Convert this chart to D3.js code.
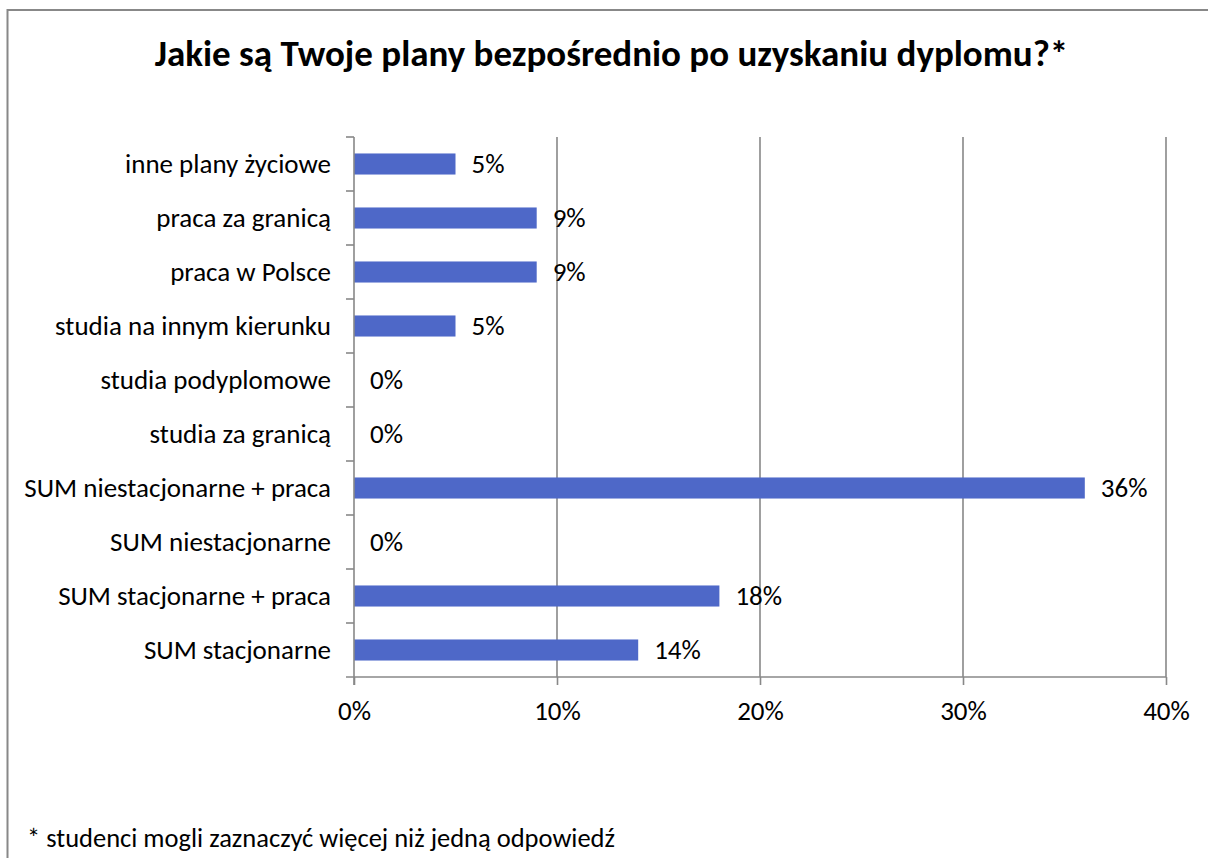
<!DOCTYPE html>
<html>
<head>
<meta charset="utf-8">
<script src="https://cdn.jsdelivr.net/npm/d3@7"></script>
<style>
  html, body { margin: 0; padding: 0; background: #fff; }
  svg { display: block; }
  text { font-family: Carlito, Lato, "Liberation Sans", sans-serif; fill: #000; }
</style>
</head>
<body>
<script>
const categories = [
  "inne plany życiowe",
  "praca za granicą",
  "praca w Polsce",
  "studia na innym kierunku",
  "studia podyplomowe",
  "studia za granicą",
  "SUM niestacjonarne + praca",
  "SUM niestacjonarne",
  "SUM stacjonarne + praca",
  "SUM stacjonarne"
];
const values = [5, 9, 9, 5, 0, 0, 36, 0, 18, 14];
const xTicks = [0, 10, 20, 30, 40];
const title = "Jakie są Twoje plany bezpośrednio po uzyskaniu dyplomu?*";
const footnote = "* studenci mogli zaznaczyć więcej niż jedną odpowiedź";

const W = 1208, H = 858;
const plot = { left: 354, right: 1166, top: 137, bottom: 677 };
const gray = "#888888";
const barColor = "#4E68C8";
const labelSize = "27px";

const svg = d3.select("body").append("svg").attr("width", W).attr("height", H);

// outer frame
svg.append("path")
  .attr("d", `M7.5,${H + 5} V10 H${W + 5}`)
  .attr("fill", "none").attr("stroke", gray).attr("stroke-width", 2);

svg.append("text")
  .attr("x", 611.5).attr("y", 66)
  .attr("text-anchor", "middle")
  .style("font-size", "37px").style("font-weight", "bold")
  .text(title);

const x = d3.scaleLinear().domain([0, 40]).range([plot.left, plot.right]);
const y = d3.scaleBand().domain(categories).range([plot.top, plot.bottom])
  .paddingInner(0.61).paddingOuter(0.305);

// gridlines
svg.append("g").selectAll("line").data(xTicks.filter(d => d > 0)).join("line")
  .attr("x1", d => x(d)).attr("x2", d => x(d))
  .attr("y1", plot.top).attr("y2", plot.bottom)
  .attr("stroke", gray).attr("stroke-width", 1.6);

// bars
svg.append("g").selectAll("rect").data(values).join("rect")
  .attr("x", x(0))
  .attr("y", (d, i) => y(categories[i]))
  .attr("width", d => x(d) - x(0))
  .attr("height", y.bandwidth())
  .attr("fill", barColor);

// x axis
const xAxis = d3.axisBottom(x).tickValues(xTicks).tickFormat(d => d + "%").tickSize(8).tickPadding(16).tickSizeOuter(0);
const gx = svg.append("g").attr("transform", `translate(0,${plot.bottom})`).call(xAxis);
gx.select(".domain").remove();
gx.append("line").attr("x1", plot.left - 8).attr("x2", plot.right).attr("stroke", gray).attr("stroke-width", 1.6);
gx.selectAll(".tick line").attr("stroke", gray).attr("stroke-width", 1.6);
gx.selectAll(".tick text").style("font-size", labelSize).style("font-family", null).attr("fill", "#000");

// y axis
const yAxis = d3.axisLeft(y).tickSize(0).tickPadding(23);
const gy = svg.append("g").attr("transform", `translate(${plot.left},0)`).call(yAxis);
gy.select(".domain").remove();
gy.append("line").attr("y1", plot.top).attr("y2", plot.bottom + 8).attr("stroke", gray).attr("stroke-width", 1.6);
gy.selectAll(".tick text").style("font-size", labelSize).style("font-family", null).attr("fill", "#000").attr("dy", "0.34em");
// boundary ticks between categories
const step = y.step();
const bounds = d3.range(categories.length).map(i => y(categories[i]) - y.paddingOuter() * step);
gy.append("g").selectAll("line").data(bounds).join("line")
  .attr("x1", -8).attr("x2", 0)
  .attr("y1", d => d).attr("y2", d => d)
  .attr("stroke", gray).attr("stroke-width", 1.6);

// value labels
svg.append("g").selectAll("text").data(values).join("text")
  .attr("x", d => x(d) + 16)
  .attr("y", (d, i) => y(categories[i]) + y.bandwidth() / 2)
  .attr("dy", "0.34em")
  .style("font-size", labelSize)
  .text(d => d + "%");

svg.append("text")
  .attr("x", 27).attr("y", 847)
  .style("font-size", "26.5px")
  .text(footnote);
</script>
</body>
</html>
